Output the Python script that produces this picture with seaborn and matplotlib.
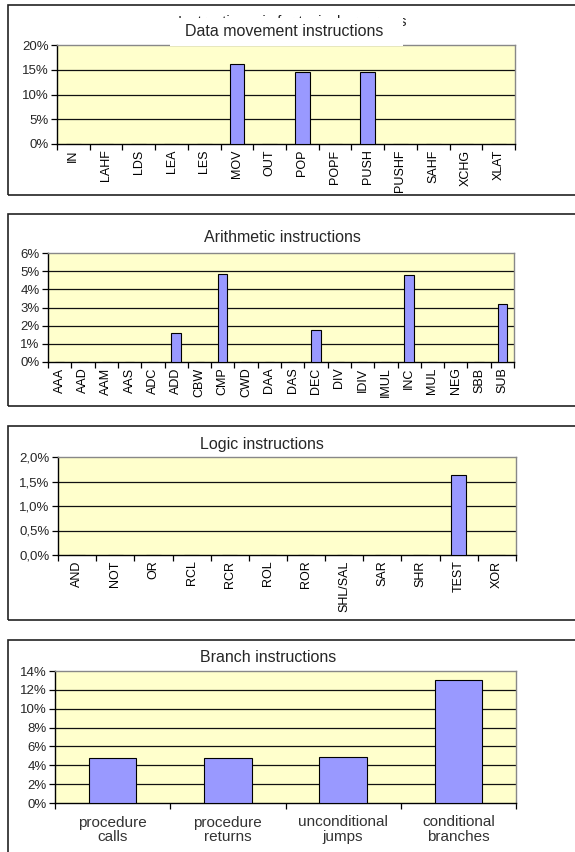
import matplotlib
matplotlib.use("Agg")
import matplotlib.pyplot as plt
import matplotlib.patches as mpatches
from matplotlib.ticker import FixedLocator, FuncFormatter
import seaborn as sns
import pandas as pd

# ---- data -----------------------------------------------------------------
data_mov_ops = ["IN", "LAHF", "LDS", "LEA", "LES", "MOV", "OUT", "POP", "POPF",
                "PUSH", "PUSHF", "SAHF", "XCHG", "XLAT"]
data_mov_pct = [0, 0, 0, 0, 0, 16.2, 0, 14.6, 0, 14.6, 0, 0, 0, 0]

arith_ops = ["AAA", "AAD", "AAM", "AAS", "ADC", "ADD", "CBW", "CMP", "CWD", "DAA",
             "DAS", "DEC", "DIV", "IDIV", "IMUL", "INC", "MUL", "NEG", "SBB", "SUB"]
arith_pct = [0, 0, 0, 0, 0, 1.62, 0, 4.83, 0, 0, 0, 1.75, 0, 0, 0, 4.77, 0, 0, 0, 3.18]

logic_ops = ["AND", "NOT", "OR", "RCL", "RCR", "ROL", "ROR", "SHL/SAL", "SAR",
             "SHR", "TEST", "XOR"]
logic_pct = [0, 0, 0, 0, 0, 0, 0, 0, 0, 0, 1.63, 0]

branch_ops = ["procedure\ncalls", "procedure\nreturns", "unconditional\njumps",
              "conditional\nbranches"]
branch_pct = [4.75, 4.75, 4.85, 13.0]

# ---- styling --------------------------------------------------------------
W, H = 575, 852
sns.set_theme(style="white")
plt.rcParams["font.family"] = ["Liberation Sans", "DejaVu Sans"]

BAR = "#9999FF"
PLOT_BG = "#FFFFCC"

fig = plt.figure(figsize=(W / 100, H / 100), dpi=100)
fig.patch.set_facecolor("white")


def fig_rect(x0, y0, x1, y1):
    return [x0 / W, 1 - y1 / H, (x1 - x0) / W, (y1 - y0) / H]


def frame(x0, y0, x1, y1):
    fig.patches.append(mpatches.Rectangle((x0 / W, 1 - y1 / H), (x1 - x0) / W,
                                          (y1 - y0) / H, transform=fig.transFigure,
                                          fill=False, edgecolor="#222222", lw=1.2,
                                          zorder=1))


def panel(box, ops, pct, ymax, ystep, fmt, title, title_xy, width=0.42,
          label_size=9, label_rot=90, label_color="black", label_pad=4,
          linespacing=1.2):
    ax = fig.add_axes(fig_rect(*box))
    df = pd.DataFrame({"op": ops, "pct": pct})
    sns.barplot(data=df, x="op", y="pct", color=BAR, edgecolor="black",
                linewidth=0.8, width=width, saturation=1, ax=ax, zorder=3)
    n = len(ops)
    ax.set_xlim(-0.5, n - 0.5)
    ax.set_ylim(0, ymax)
    ax.set_facecolor(PLOT_BG)
    yt = [i * ystep for i in range(int(round(ymax / ystep)) + 1)]
    ax.set_yticks(yt)
    ax.yaxis.set_major_formatter(FuncFormatter(fmt))
    for y in yt[1:-1]:
        ax.axhline(y, color="#111111", lw=0.9, zorder=2)
    # category boundaries carry the tick marks, centres carry the labels
    ax.xaxis.set_major_locator(FixedLocator([i - 0.5 for i in range(n + 1)]))
    ax.xaxis.set_minor_locator(FixedLocator(list(range(n))))
    ax.set_xticklabels([""] * (n + 1))
    ax.set_xticklabels(ops, minor=True, rotation=label_rot, fontsize=label_size,
                       color=label_color, linespacing=linespacing)
    ax.tick_params(axis="x", which="major", direction="out", length=4,
                   width=0.9, color="black", bottom=True)
    ax.tick_params(axis="x", which="minor", length=0, pad=label_pad)
    ax.tick_params(axis="y", direction="out", length=4, width=0.9, color="black",
                   left=True, labelsize=9.5, pad=2)
    ax.set_xlabel("")
    ax.set_ylabel("")
    for s in ("top", "right"):
        ax.spines[s].set_color("#888888")
        ax.spines[s].set_linewidth(1.0)
    for s in ("left", "bottom"):
        ax.spines[s].set_color("black")
        ax.spines[s].set_linewidth(1.0)
    fig.text(title_xy[0] / W, 1 - title_xy[1] / H, title, ha="center",
             va="center", fontsize=11.5, zorder=6)
    return ax


pct_int = lambda v, _: f"{v:.0f}%"
pct_comma = lambda v, _: f"{v:.1f}%".replace(".", ",")

# Data movement: the chart's main heading sits behind the panel title box
frame(8, 5, 590, 195)
fig.text(292 / W, 1 - 22 / H, "Instruction mix for typical programs",
         ha="center", va="center", fontsize=10.5, color="#222222", zorder=3)
fig.patches.append(mpatches.Rectangle((170 / W, 1 - 46 / H), 233 / W, 28 / H,
                                      transform=fig.transFigure, facecolor="white",
                                      edgecolor="none", zorder=4))
panel((57, 45, 515, 144), data_mov_ops, data_mov_pct, 20, 5, pct_int,
      "Data movement instructions", (284, 31), width=0.45)

# Arithmetic
frame(8, 214, 590, 406)
panel((48, 253, 514, 362), arith_ops, arith_pct, 6, 1, pct_int,
      "Arithmetic instructions", (282, 238), width=0.4)

# Logic
frame(8, 426, 590, 620)
panel((58, 457, 516, 555), logic_ops, logic_pct, 2.0, 0.5, pct_comma,
      "Logic instructions", (262, 444), width=0.4)

# Branch
frame(8, 640, 590, 880)
panel((55, 671, 516, 803), branch_ops, branch_pct, 14, 2, pct_int,
      "Branch instructions", (268, 658), width=0.41, label_size=11,
      label_rot=0, label_color="#333333", label_pad=9, linespacing=1.05)

fig.savefig("out.png", dpi=100, facecolor="white")
